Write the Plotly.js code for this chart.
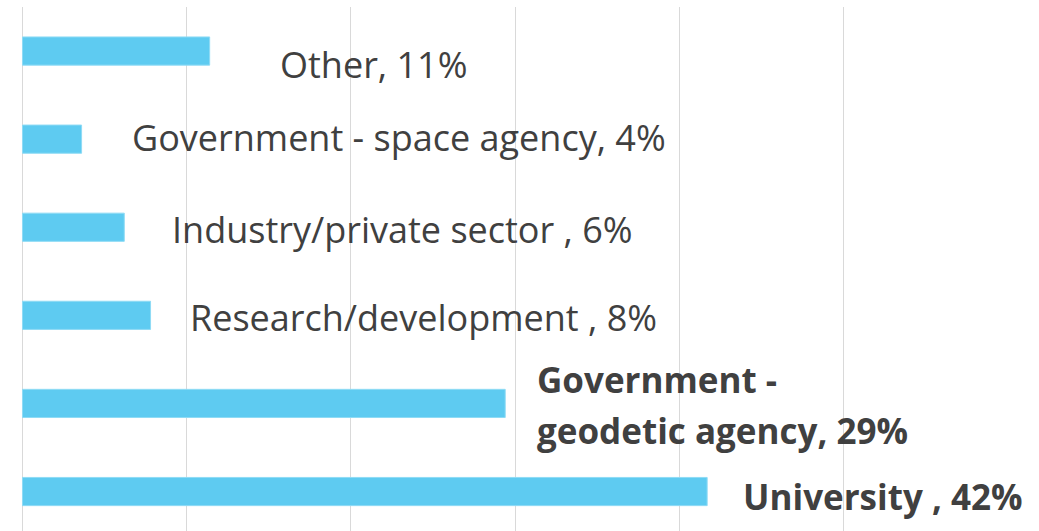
<!DOCTYPE html>
<html>
<head>
<meta charset="utf-8">
<script src="https://cdn.plot.ly/plotly-3.0.1.min.js"></script>
<style>html,body{margin:0;padding:0;background:#fff;}#chart{width:1039px;height:531px;}</style>
</head>
<body>
<div id="chart"></div>
<script>
// Data (bottom to top)
const categories = ["University", "Government - geodetic agency", "Research/development", "Industry/private sector", "Government - space agency", "Other"];
const values = [41.7, 29.4, 7.8, 6.2, 3.6, 11.4];
const labelTexts = ["University , 42%", "Government -", "geodetic agency, 29%", "Research/development , 8%", "Industry/private sector , 6%", "Government - space agency, 4%", "Other, 11%"];
const gridTicks = [0, 10, 20, 30, 40, 50];

// Label placement (styling/layout, not data)
const labelCat = [0, 1, 1, 2, 3, 4, 5];
const labelX = [43.85, 31.3, 31.3, 10.15, 9.05, 6.6, 15.65];
const labelShift = [-5, 24, -27, -2, -2, 2, -13];
const labelBold = [true, true, true, false, false, false, false];

const trace = {
  type: 'bar',
  orientation: 'h',
  y: categories,
  x: values,
  marker: {color: '#5ecbf1', line: {color: '#8fdbf5', width: 1}},
  hoverinfo: 'none'
};

const annotations = labelTexts.map((t, i) => ({
  xref: 'x', yref: 'y',
  x: labelX[i], y: categories[labelCat[i]],
  text: labelBold[i] ? '<b>' + t + '</b>' : t,
  showarrow: false,
  xanchor: 'left', yanchor: 'middle',
  yshift: labelShift[i],
  borderpad: 0,
  font: {family: 'Open Sans', size: labelBold[i] ? 35 : 36, color: '#404040'}
}));

const layout = {
  width: 1039, height: 531,
  margin: {l: 21, r: 0, t: 7, b: 0, pad: 0},
  paper_bgcolor: '#ffffff', plot_bgcolor: '#ffffff',
  showlegend: false,
  bargap: 0.68,
  xaxis: {
    range: [-0.09, 61.91],
    tickvals: gridTicks,
    showticklabels: false,
    showgrid: true, gridcolor: '#d9d9d9', gridwidth: 1,
    zeroline: false, showline: false, ticks: ''
  },
  yaxis: {
    type: 'category',
    categoryorder: 'array', categoryarray: categories,
    range: [-0.448, 5.5],
    showticklabels: false, showgrid: false, zeroline: false, showline: false, ticks: ''
  },
  annotations: annotations,
  font: {family: 'Open Sans', color: '#404040'}
};

Plotly.newPlot('chart', [trace], layout, {displayModeBar: false, staticPlot: true});
</script>
</body>
</html>
